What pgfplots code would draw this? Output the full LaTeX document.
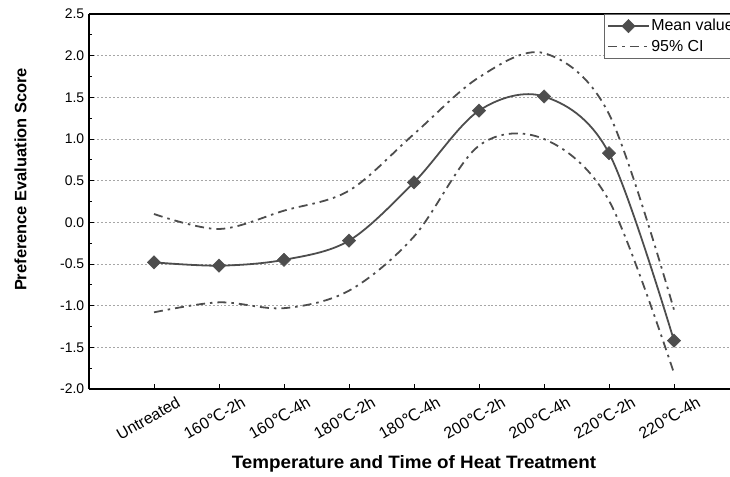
\documentclass[border=0pt]{standalone}
\usepackage{pgfplots}
\pgfplotsset{compat=1.18}
\usepackage{fontspec}
\setmainfont{Liberation Sans}
\newfontfamily\dejavu{DejaVu Sans}
\definecolor{lc}{HTML}{4D4D4D}
\begin{document}
\fontsize{14}{16}\selectfont
\begin{tikzpicture}
\begin{axis}[
  scale only axis, width=650bp, height=375bp,
  xmin=-1, xmax=9, ymin=-2, ymax=2.5,
  axis x line*=bottom, axis y line*=left,
  clip=false,
  xtick={0,...,8},
  xticklabels={Untreated,160{\dejavu ℃}-2h,160{\dejavu ℃}-4h,180{\dejavu ℃}-2h,180{\dejavu ℃}-4h,200{\dejavu ℃}-2h,200{\dejavu ℃}-4h,220{\dejavu ℃}-2h,220{\dejavu ℃}-4h},
  xticklabel style={anchor=north east, xshift=22bp, yshift=-5bp, rotate=30, font=\fontsize{16}{18}\selectfont, inner sep=1pt},
  ytick={-2,-1.5,...,2.5},
  minor y tick num=1,
  yticklabel style={/pgf/number format/.cd, fixed, fixed zerofill, precision=1, assume math mode=true},
  tick align=inside,
  major tick length=5bp, minor tick length=3.5bp,
  tick style={black, line width=0.9pt},
  axis line style={line width=1.3pt},
  ymajorgrids, grid style={gray!70, dash pattern=on 2pt off 2pt, line width=0.7pt},
  xlabel={\scalebox{1.05}[1]{\fontsize{18}{20}\selectfont\bfseries Temperature and Time of Heat Treatment}},
  ylabel={\fontsize{16.5}{18}\selectfont\bfseries Preference Evaluation Score},
  xlabel style={yshift=-12bp, inner sep=1pt},
  ylabel style={yshift=24bp, xshift=22bp},
  legend style={at={(rel axis cs:1,1)}, anchor=north east, draw=gray!80!black, line width=0.6pt, inner sep=3pt, font=\fontsize{16}{17}\selectfont, row sep=3pt, cells={anchor=west}},
  legend cell align=left,
  legend image code/.code={\draw[mark repeat=2,mark phase=2,#1] plot coordinates {(0bp,0bp) (20bp,0bp) (40bp,0bp)};},
]
\coordinate (bl) at (rel axis cs:0,0);
\draw[line width=1.3pt] (rel axis cs:0,1) -- (rel axis cs:1,1);
\addplot[lc, line width=1.8pt, smooth, tension=0.55, mark=square*, mark size=4.7bp, mark options={rotate=45, fill=lc, draw=lc, solid, line width=0.5pt}] coordinates {
(0,-0.48) (1,-0.52) (2,-0.45) (3,-0.22) (4,0.48) (5,1.34) (6,1.51) (7,0.83) (8,-1.42)};
\addlegendentry{Mean value}
\addplot[lc, line width=1.8pt, smooth, tension=0.55, dash pattern=on 9pt off 5pt on 2.5pt off 5pt] coordinates {
(0,0.10) (1,-0.08) (2,0.14) (3,0.38) (4,1.06) (5,1.74) (6,2.03) (7,1.30) (8,-1.05)};
\addlegendentry{95\% CI}
\addplot[lc, line width=1.8pt, smooth, tension=0.55, dash pattern=on 9pt off 5pt on 2.5pt off 5pt, forget plot] coordinates {
(0,-1.08) (1,-0.96) (2,-1.03) (3,-0.82) (4,-0.17) (5,0.92) (6,1.00) (7,0.26) (8,-1.81)};
\end{axis}
\pgfresetboundingbox
\path ([xshift=-89bp,yshift=-88bp]bl) rectangle ++(730bp,477bp);
\end{tikzpicture}
\end{document}
